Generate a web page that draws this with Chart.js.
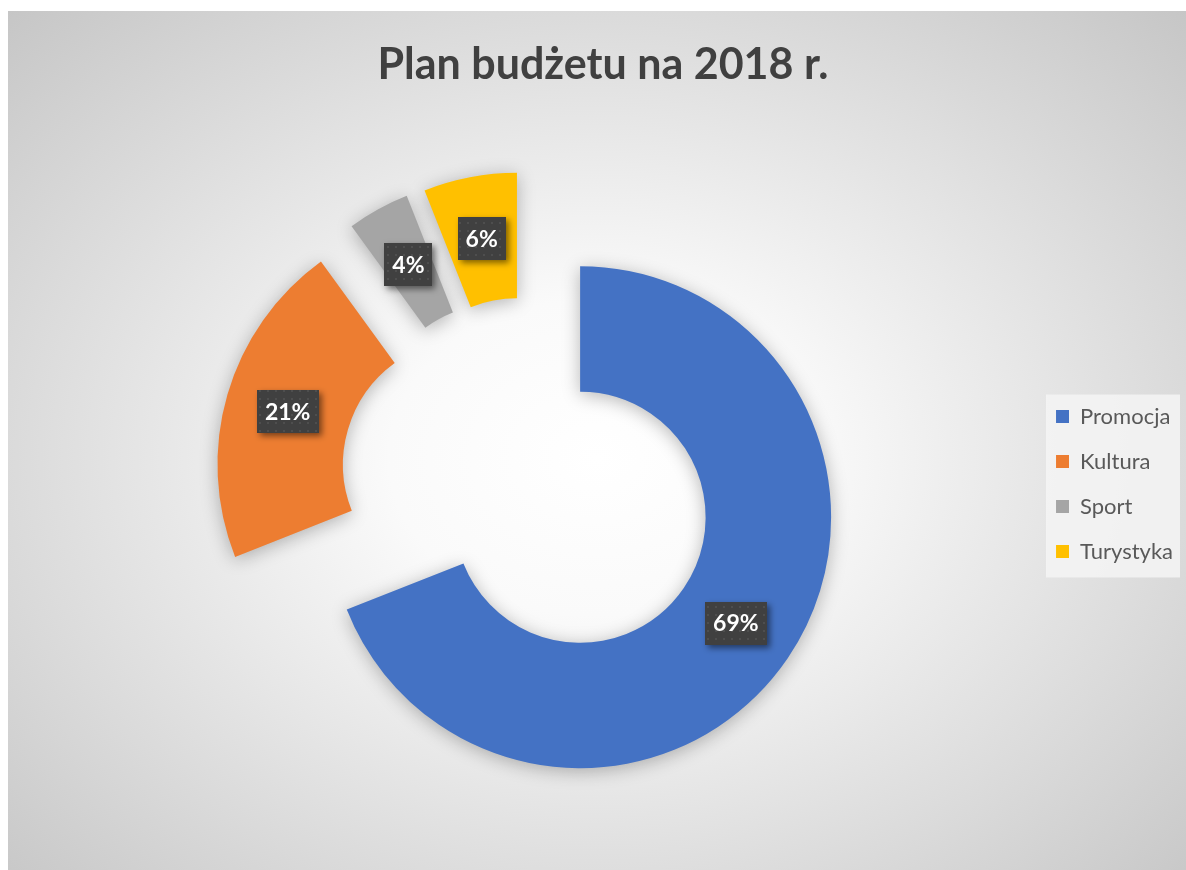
<!DOCTYPE html>
<html><head><meta charset="utf-8">
<script src="https://cdn.jsdelivr.net/npm/chart.js@4.4.1/dist/chart.umd.min.js"></script>
<style>
html,body{margin:0;padding:0;background:#fff;width:1186px;height:870px;overflow:hidden;}
#panel{position:absolute;left:8px;top:11px;width:1178px;height:859px;
background:radial-gradient(ellipse farthest-corner at 50% 52%, #ffffff 0%, #fafafa 25%, #c6c6c6 100%);}
canvas{display:block}
</style></head><body>
<div id="panel"><canvas id="c" width="1178" height="859"></canvas></div>
<script>
const chartTitle = 'Plan budżetu na 2018 r.';
const categories = ['Promocja', 'Kultura', 'Sport', 'Turystyka'];
const values = [69, 21, 4, 6];
const colors = ['#4472C4', '#ED7D31', '#A5A5A5', '#FFC000'];
const explode = [63, 62, 60, 59];

// dotted dark pattern for the data label boxes
const pc = document.createElement('canvas');
pc.width = 8; pc.height = 8;
const pctx = pc.getContext('2d');
pctx.fillStyle = '#404040'; pctx.fillRect(0, 0, 8, 8);
pctx.fillStyle = '#4e4e4e'; pctx.fillRect(3, 3, 2, 2);

const explodePlugin = {
  id: 'explode',
  afterDatasetUpdate(chart, args) {
    args.meta.data.forEach((arc, i) => {
      const d = explode[i] || 0;
      const mid = (arc.startAngle + arc.endAngle) / 2;
      arc.x += Math.cos(mid) * d;
      arc.y += Math.sin(mid) * d;
    });
  }
};

const decoPlugin = {
  id: 'deco',
  beforeDraw(chart) {
    const lg = chart.legend;
    if (!lg || !lg.legendHitBoxes || !lg.legendHitBoxes.length) return;
    const ctx = chart.ctx;
    ctx.save();
    ctx.fillStyle = 'rgba(244,244,244,0.85)';
    const items = lg.legendHitBoxes;
    const last = items[items.length - 1];
    const top = items[0].top - 11, bottom = last.top + last.height + 15;
    const left = items[0].left - 10;
    ctx.fillRect(left, top, 1172 - left, bottom - top);
    ctx.restore();
  },
  beforeDatasetsDraw(chart) {
    const ctx = chart.ctx;
    ctx.save();
    ctx.shadowColor = 'rgba(0,0,0,0.28)';
    ctx.shadowBlur = 18;
    ctx.shadowOffsetX = 0;
    ctx.shadowOffsetY = 3;
  },
  afterDatasetsDraw(chart) {
    const ctx = chart.ctx;
    ctx.restore();
    const meta = chart.getDatasetMeta(0);
    const total = values.reduce((a, b) => a + b, 0);
    const pattern = ctx.createPattern(pc, 'repeat');
    ctx.save();
    ctx.font = 'bold 23px Lato';
    ctx.textAlign = 'center';
    ctx.textBaseline = 'middle';
    meta.data.forEach((arc, i) => {
      const p = arc.tooltipPosition();
      const txt = Math.round(values[i] / total * 100) + '%';
      const w = ctx.measureText(txt).width + 16;
      const h = 43;
      ctx.shadowColor = 'rgba(0,0,0,0.5)';
      ctx.shadowBlur = 6;
      ctx.shadowOffsetX = 3;
      ctx.shadowOffsetY = 3;
      ctx.fillStyle = pattern;
      ctx.fillRect(Math.round(p.x - w / 2), Math.round(p.y - h / 2), Math.round(w), h);
      ctx.shadowColor = 'transparent';
      ctx.shadowBlur = 0; ctx.shadowOffsetX = 0; ctx.shadowOffsetY = 0;
      ctx.fillStyle = '#ffffff';
      ctx.fillText(txt, p.x, p.y + 1);
    });
    ctx.restore();
  }
};

new Chart(document.getElementById('c'), {
  type: 'doughnut',
  data: {
    labels: categories,
    datasets: [{
      data: values,
      backgroundColor: colors,
      borderWidth: 0,
      radius: 251,
      cutout: '50%',
      clip: false
    }]
  },
  options: {
    responsive: false,
    animation: false,
    devicePixelRatio: 1,
    layout: { padding: { left: 15, right: 3, top: 0, bottom: 5 } },
    plugins: {
      title: {
        display: true,
        text: chartTitle,
        color: '#404040',
        font: { family: 'Lato', size: 43, weight: 'bold' },
        padding: { top: 28, bottom: 8 }
      },
      legend: {
        position: 'right',
        title: { display: true, text: '', font: { size: 1, lineHeight: 1 }, padding: { top: 91, bottom: 0 } },
        labels: {
          color: '#595959',
          font: { family: 'Lato', size: 22 },
          boxWidth: 13,
          boxHeight: 13,
          padding: 23
        }
      },
      tooltip: { enabled: false }
    }
  },
  plugins: [explodePlugin, decoPlugin]
});
</script>
</body></html>
